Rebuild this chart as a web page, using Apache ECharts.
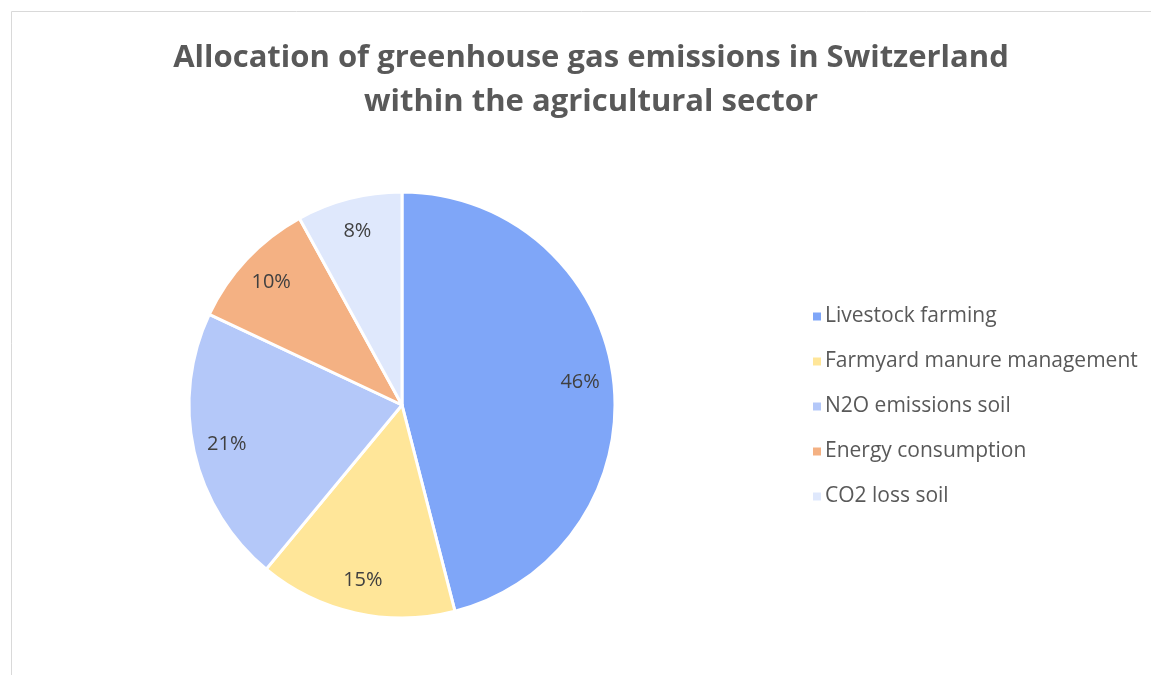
<!DOCTYPE html>
<html>
<head>
<meta charset="utf-8">
<style>
  html, body { margin: 0; padding: 0; background: #fff; }
  #chart { width: 1151px; height: 675px; }
</style>
<script src="https://cdn.jsdelivr.net/npm/echarts@6/dist/echarts.min.js"></script>
</head>
<body>
<div id="chart"></div>
<script>
const categories = ['Livestock farming', 'Farmyard manure management', 'N2O emissions soil', 'Energy consumption', 'CO2 loss soil']
const shares = [46, 15, 21, 10, 8]
const colors = ['#7fa6f8', '#ffe699', '#b4c8f9', '#f4b183', '#dfe8fc']

const myChart = echarts.init(document.getElementById('chart'))

const pieData = categories.map((name, i) => ({
  name: name,
  value: shares[i],
  itemStyle: { color: colors[i] }
}))

const option = {
  animation: false,
  title: {
    text: 'Allocation of greenhouse gas emissions in Switzerland\nwithin the agricultural sector',
    left: 586,
    top: 31,
    textAlign: 'center',
    textStyle: {
      color: '#595959',
      fontFamily: 'Open Sans',
      fontSize: 31,
      fontWeight: 'bold',
      lineHeight: 44
    }
  },
  legend: {
    orient: 'vertical',
    left: 806,
    top: 301,
    icon: 'rect',
    itemWidth: 10,
    itemHeight: 10,
    itemGap: 24,
    data: categories,
    textStyle: {
      color: '#595959',
      fontFamily: 'Open Sans',
      fontSize: 21,
      padding: [0, 0, 0, -2]
    }
  },
  graphic: [{
    type: 'rect',
    shape: { x: 11.5, y: 11.5, width: 1200, height: 700 },
    style: { fill: 'none', stroke: '#d9d9d9', lineWidth: 1 },
    silent: true
  }],
  series: [
    {
      name: 'Emissions',
      type: 'pie',
      center: [402, 405],
      radius: 213,
      startAngle: 90,
      clockwise: true,
      label: { show: false },
      labelLine: { show: false },
      itemStyle: { borderColor: '#fff', borderWidth: 3 },
      emphasis: { disabled: true },
      data: pieData
    },
    {
      // transparent ring used only to place the percent labels further out
      name: 'Labels',
      type: 'pie',
      center: [402, 405],
      radius: [140, 213],
      startAngle: 90,
      clockwise: true,
      silent: true,
      legendHoverLink: false,
      itemStyle: { color: 'rgba(0,0,0,0)' },
      label: {
        show: true,
        position: 'inside',
        formatter: '{d}%',
        color: '#404040',
        fontFamily: 'Open Sans',
        fontSize: 20
      },
      labelLine: { show: false },
      emphasis: { disabled: true },
      data: categories.map((name, i) => ({ name: name, value: shares[i] }))
    }
  ]
}

option && myChart.setOption(option)

window.addEventListener('resize', function () {
  myChart.resize()
})
</script>
</body>
</html>
